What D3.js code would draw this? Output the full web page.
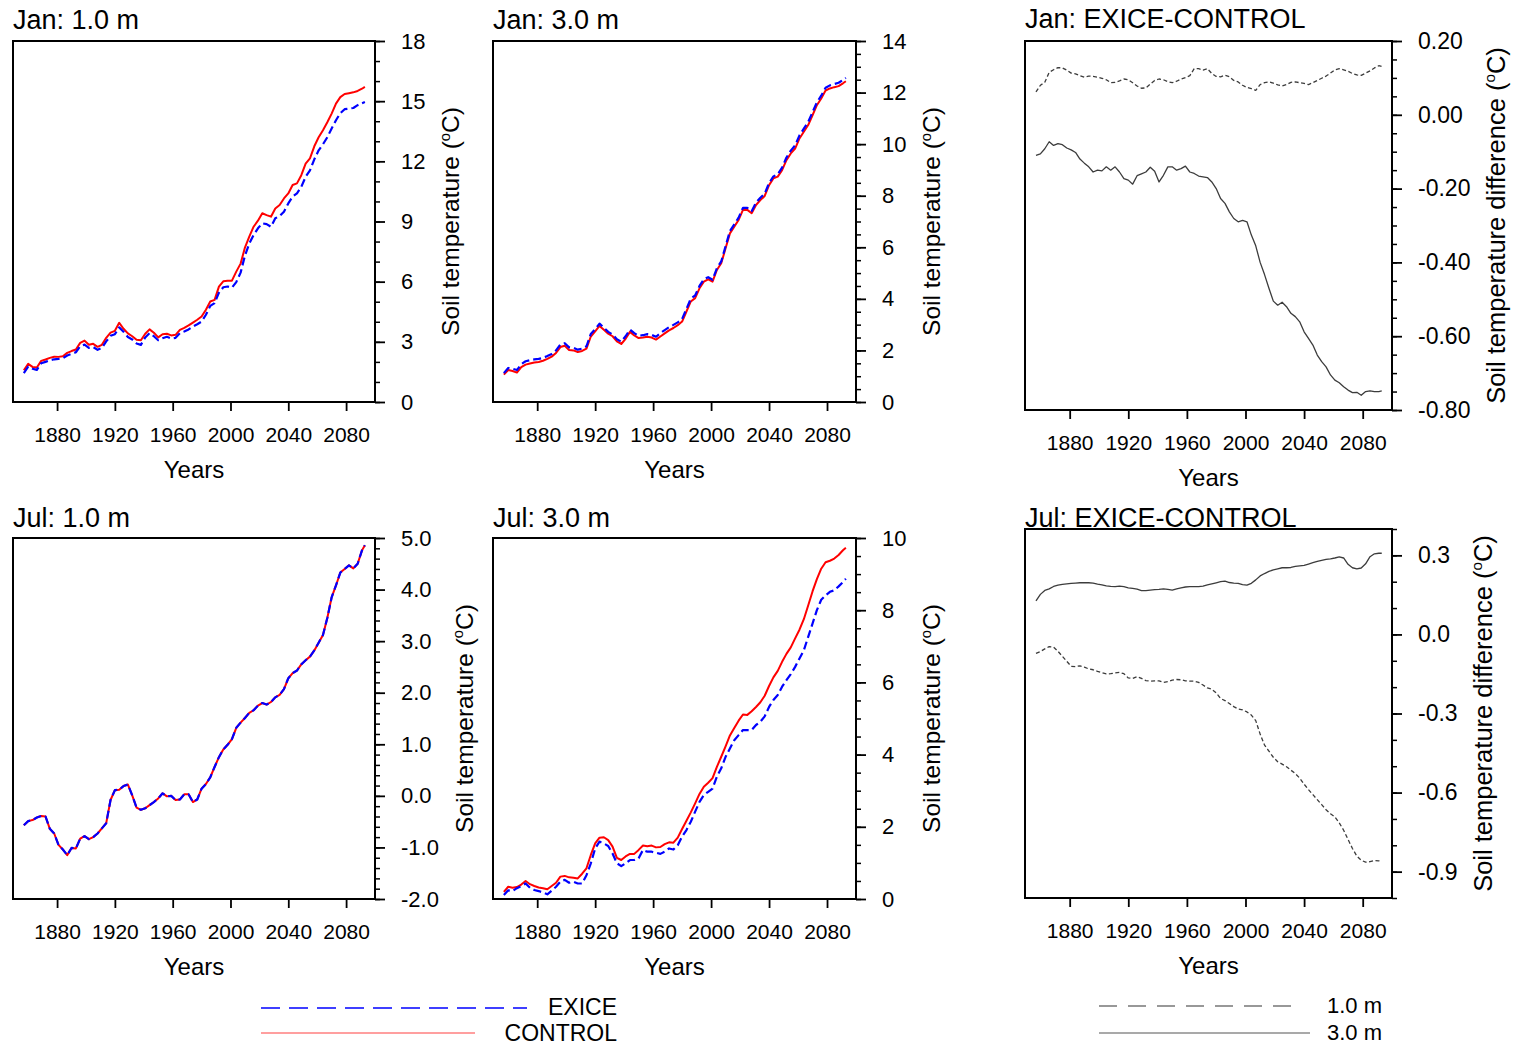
<!DOCTYPE html>
<html>
<head>
<meta charset="utf-8">
<script src="https://cdn.jsdelivr.net/npm/d3@7"></script>
<style>
  body { margin: 0; background: #fff; }
  svg { font-family: "Liberation Sans", Arial, Helvetica, sans-serif; }
</style>
</head>
<body>
<svg width="1527" height="1047"></svg>
<script>
// 15-yr running means, one value every 3 years
const years = [
  1857, 1860, 1863, 1866, 1869, 1872, 1875, 1878, 1881, 1884,
  1887, 1890, 1893, 1896, 1899, 1902, 1905, 1908, 1911, 1914,
  1917, 1920, 1923, 1926, 1929, 1932, 1935, 1938, 1941, 1944,
  1947, 1950, 1953, 1956, 1959, 1962, 1965, 1968, 1971, 1974,
  1977, 1980, 1983, 1986, 1989, 1992, 1995, 1998, 2001, 2004,
  2007, 2010, 2013, 2016, 2019, 2022, 2025, 2028, 2031, 2034,
  2037, 2040, 2043, 2046, 2049, 2052, 2055, 2058, 2061, 2064,
  2067, 2070, 2073, 2076, 2079, 2082, 2085, 2088, 2091, 2093
];

const jan1Control = [
  1.58, 1.90, 1.75, 1.72, 2.05, 2.12, 2.20, 2.26, 2.25, 2.28,
  2.45, 2.54, 2.62, 2.95, 3.06, 2.85, 2.90, 2.75, 2.85, 3.20,
  3.46, 3.55, 3.95, 3.65, 3.42, 3.28, 3.10, 3.08, 3.40, 3.62,
  3.45, 3.22, 3.38, 3.40, 3.32, 3.35, 3.60, 3.70, 3.82, 3.96,
  4.10, 4.26, 4.60, 5.01, 5.09, 5.75, 6.02, 6.05, 6.05, 6.50,
  6.90, 7.70, 8.25, 8.74, 9.04, 9.41, 9.32, 9.24, 9.65, 9.82,
  10.15, 10.40, 10.82, 10.90, 11.31, 11.89, 12.15, 12.75, 13.20, 13.55,
  13.95, 14.38, 14.88, 15.20, 15.36, 15.40, 15.44, 15.51, 15.62, 15.71
];
const jan1Exice = [
  1.44, 1.76, 1.66, 1.60, 1.93, 2.00, 2.08, 2.13, 2.15, 2.18,
  2.32, 2.40, 2.48, 2.78, 2.86, 2.70, 2.74, 2.60, 2.70, 3.02,
  3.30, 3.38, 3.72, 3.50, 3.24, 3.12, 2.92, 2.85, 3.22, 3.44,
  3.28, 3.08, 3.18, 3.25, 3.17, 3.20, 3.43, 3.52, 3.62, 3.76,
  3.88, 4.01, 4.35, 4.79, 4.93, 5.45, 5.72, 5.76, 5.70, 5.98,
  6.45, 7.30, 7.90, 8.33, 8.66, 8.91, 8.87, 8.74, 9.16, 9.27,
  9.49, 9.90, 10.24, 10.40, 10.73, 11.23, 11.55, 12.10, 12.55, 12.85,
  13.20, 13.64, 14.05, 14.40, 14.60, 14.63, 14.66, 14.80, 14.90, 14.96
];

const jan3Control = [
  1.06, 1.24, 1.20, 1.14, 1.35, 1.45, 1.49, 1.53, 1.55, 1.60,
  1.67, 1.76, 1.90, 2.13, 2.18, 2.02, 2.00, 1.94, 1.98, 2.07,
  2.54, 2.74, 2.95, 2.80, 2.65, 2.55, 2.35, 2.25, 2.45, 2.72,
  2.58, 2.48, 2.50, 2.53, 2.50, 2.42, 2.54, 2.66, 2.78, 2.87,
  2.98, 3.12, 3.51, 3.90, 4.03, 4.41, 4.67, 4.76, 4.67, 5.12,
  5.38, 5.96, 6.54, 6.80, 7.06, 7.45, 7.45, 7.32, 7.64, 7.83,
  7.99, 8.41, 8.67, 8.74, 8.99, 9.38, 9.64, 9.83, 10.22, 10.48,
  10.74, 11.12, 11.51, 11.77, 12.08, 12.16, 12.21, 12.25, 12.36, 12.44
];
const jan3Exice = [
  1.12, 1.32, 1.29, 1.24, 1.47, 1.58, 1.62, 1.65, 1.67, 1.71,
  1.78, 1.86, 2.00, 2.23, 2.28, 2.12, 2.10, 2.03, 2.07, 2.16,
  2.64, 2.83, 3.04, 2.88, 2.72, 2.62, 2.43, 2.34, 2.55, 2.81,
  2.67, 2.57, 2.59, 2.63, 2.60, 2.53, 2.67, 2.79, 2.90, 2.99,
  3.09, 3.22, 3.61, 4.01, 4.13, 4.50, 4.76, 4.84, 4.74, 5.19,
  5.45, 6.04, 6.63, 6.89, 7.15, 7.53, 7.53, 7.40, 7.73, 7.92,
  8.08, 8.49, 8.75, 8.83, 9.09, 9.48, 9.75, 9.95, 10.34, 10.60,
  10.86, 11.24, 11.62, 11.88, 12.19, 12.28, 12.33, 12.38, 12.49, 12.57
];

const janDiff1m = [
  0.062, 0.080, 0.088, 0.115, 0.122, 0.128, 0.127, 0.121, 0.113, 0.111,
  0.106, 0.102, 0.105, 0.104, 0.102, 0.099, 0.095, 0.087, 0.088, 0.092,
  0.097, 0.095, 0.087, 0.078, 0.072, 0.073, 0.083, 0.093, 0.097, 0.095,
  0.090, 0.087, 0.091, 0.097, 0.101, 0.106, 0.125, 0.125, 0.121, 0.125,
  0.112, 0.104, 0.103, 0.107, 0.103, 0.093, 0.089, 0.080, 0.074, 0.071,
  0.066, 0.082, 0.087, 0.089, 0.086, 0.081, 0.078, 0.082, 0.088, 0.089,
  0.087, 0.085, 0.082, 0.087, 0.093, 0.099, 0.105, 0.113, 0.122, 0.125,
  0.122, 0.118, 0.112, 0.108, 0.107, 0.113, 0.119, 0.127, 0.133, 0.131
];
const janDiff3m = [
  -0.110, -0.106, -0.092, -0.073, -0.083, -0.078, -0.081, -0.090, -0.095, -0.102,
  -0.120, -0.131, -0.141, -0.155, -0.150, -0.152, -0.141, -0.150, -0.141, -0.155,
  -0.173, -0.177, -0.188, -0.165, -0.160, -0.155, -0.142, -0.153, -0.182, -0.164,
  -0.141, -0.141, -0.150, -0.146, -0.139, -0.155, -0.159, -0.166, -0.168, -0.170,
  -0.182, -0.200, -0.227, -0.240, -0.263, -0.281, -0.290, -0.286, -0.290, -0.326,
  -0.355, -0.400, -0.433, -0.470, -0.505, -0.516, -0.508, -0.520, -0.538, -0.547,
  -0.561, -0.588, -0.606, -0.624, -0.651, -0.669, -0.683, -0.705, -0.719, -0.726,
  -0.737, -0.746, -0.753, -0.752, -0.760, -0.750, -0.748, -0.750, -0.750, -0.748
];

const jul1Control = [
  -0.57, -0.49, -0.47, -0.42, -0.39, -0.40, -0.64, -0.73, -0.95, -1.04,
  -1.15, -1.01, -1.02, -0.83, -0.78, -0.84, -0.80, -0.73, -0.63, -0.53,
  -0.08, 0.11, 0.12, 0.19, 0.22, 0.01, -0.23, -0.27, -0.24, -0.18,
  -0.12, -0.05, 0.05, -0.01, 0.00, -0.08, -0.07, 0.03, 0.03, -0.12,
  -0.07, 0.14, 0.23, 0.36, 0.56, 0.75, 0.90, 0.99, 1.10, 1.32,
  1.42, 1.51, 1.61, 1.66, 1.75, 1.80, 1.77, 1.82, 1.91, 1.96,
  2.07, 2.28, 2.38, 2.43, 2.55, 2.63, 2.70, 2.82, 2.97, 3.12,
  3.45, 3.85, 4.08, 4.33, 4.40, 4.47, 4.41, 4.50, 4.76, 4.86
];
// the two runs lie on top of each other at 1 m in July
const jul1Exice = [
  -0.57, -0.49, -0.47, -0.42, -0.39, -0.40, -0.64, -0.73, -0.95, -1.04,
  -1.15, -1.01, -1.02, -0.83, -0.78, -0.84, -0.80, -0.73, -0.63, -0.53,
  -0.08, 0.11, 0.12, 0.19, 0.22, 0.01, -0.23, -0.27, -0.24, -0.18,
  -0.12, -0.05, 0.05, -0.01, 0.00, -0.08, -0.07, 0.03, 0.03, -0.12,
  -0.07, 0.14, 0.23, 0.36, 0.56, 0.75, 0.90, 0.99, 1.10, 1.32,
  1.42, 1.51, 1.61, 1.66, 1.75, 1.80, 1.77, 1.82, 1.91, 1.96,
  2.07, 2.28, 2.38, 2.43, 2.55, 2.63, 2.70, 2.82, 2.97, 3.12,
  3.45, 3.85, 4.08, 4.33, 4.40, 4.47, 4.41, 4.50, 4.76, 4.86
];

const jul3Control = [
  0.20, 0.34, 0.31, 0.33, 0.40, 0.50, 0.41, 0.36, 0.32, 0.30,
  0.27, 0.36, 0.45, 0.62, 0.64, 0.60, 0.59, 0.57, 0.70, 0.85,
  1.22, 1.54, 1.70, 1.71, 1.63, 1.45, 1.14, 1.08, 1.18, 1.25,
  1.25, 1.36, 1.48, 1.46, 1.48, 1.43, 1.44, 1.52, 1.57, 1.56,
  1.70, 1.94, 2.17, 2.40, 2.65, 2.91, 3.11, 3.22, 3.35, 3.66,
  3.94, 4.23, 4.53, 4.74, 4.94, 5.11, 5.10, 5.20, 5.32, 5.45,
  5.63, 5.90, 6.14, 6.32, 6.57, 6.79, 6.97, 7.22, 7.46, 7.75,
  8.13, 8.52, 8.86, 9.15, 9.33, 9.37, 9.43, 9.53, 9.66, 9.73
];
const jul3Exice = [
  0.11, 0.24, 0.22, 0.30, 0.36, 0.43, 0.31, 0.25, 0.22, 0.18,
  0.13, 0.23, 0.34, 0.48, 0.53, 0.45, 0.48, 0.43, 0.43, 0.66,
  0.99, 1.40, 1.59, 1.54, 1.47, 1.26, 0.99, 0.91, 0.99, 1.08,
  1.08, 1.13, 1.36, 1.31, 1.31, 1.28, 1.25, 1.31, 1.40, 1.37,
  1.49, 1.73, 1.91, 2.14, 2.42, 2.69, 2.88, 2.97, 3.06, 3.39,
  3.62, 3.94, 4.17, 4.40, 4.54, 4.68, 4.68, 4.68, 4.82, 4.91,
  5.06, 5.32, 5.51, 5.65, 5.88, 6.06, 6.23, 6.43, 6.66, 6.89,
  7.26, 7.63, 8.00, 8.29, 8.41, 8.51, 8.55, 8.66, 8.78, 8.87
];

const julDiff1m = [
  -0.072, -0.065, -0.055, -0.046, -0.048, -0.064, -0.083, -0.102, -0.121, -0.122,
  -0.119, -0.124, -0.131, -0.134, -0.140, -0.145, -0.150, -0.149, -0.146, -0.144,
  -0.149, -0.165, -0.167, -0.160, -0.167, -0.175, -0.177, -0.176, -0.176, -0.182,
  -0.179, -0.173, -0.171, -0.172, -0.176, -0.177, -0.177, -0.182, -0.192, -0.203,
  -0.208, -0.222, -0.243, -0.251, -0.262, -0.274, -0.283, -0.286, -0.294, -0.306,
  -0.327, -0.378, -0.420, -0.443, -0.466, -0.483, -0.492, -0.502, -0.515, -0.528,
  -0.545, -0.568, -0.589, -0.608, -0.627, -0.646, -0.665, -0.680, -0.692, -0.715,
  -0.743, -0.778, -0.812, -0.841, -0.857, -0.864, -0.862, -0.858, -0.859, -0.861
];
const julDiff3m = [
  0.127, 0.152, 0.167, 0.173, 0.182, 0.187, 0.190, 0.192, 0.194, 0.195,
  0.196, 0.196, 0.196, 0.195, 0.191, 0.188, 0.184, 0.182, 0.181, 0.183,
  0.181, 0.177, 0.175, 0.172, 0.166, 0.166, 0.168, 0.170, 0.171, 0.173,
  0.171, 0.168, 0.173, 0.177, 0.180, 0.181, 0.181, 0.181, 0.183, 0.188,
  0.192, 0.196, 0.200, 0.202, 0.197, 0.195, 0.194, 0.189, 0.187, 0.194,
  0.207, 0.222, 0.231, 0.239, 0.245, 0.249, 0.253, 0.253, 0.254, 0.258,
  0.260, 0.262, 0.267, 0.272, 0.277, 0.281, 0.285, 0.287, 0.290, 0.294,
  0.290, 0.266, 0.253, 0.249, 0.252, 0.268, 0.295, 0.306, 0.308, 0.308
];

// tick labels
const xTicks = [1880, 1920, 1960, 2000, 2040, 2080];
const jan1Ticks = [0, 3, 6, 9, 12, 15, 18];
const jan3Ticks = [0, 2, 4, 6, 8, 10, 12, 14];
const janDiffTicks = [-0.8, -0.6, -0.4, -0.2, 0.0, 0.2];
const jul1Ticks = [-2, -1, 0, 1, 2, 3, 4, 5];
const jul3Ticks = [0, 2, 4, 6, 8, 10];
const julDiffTicks = [-0.9, -0.6, -0.3, 0.0, 0.3];

const legendTemp = ["EXICE", "CONTROL"];
const legendDepth = ["1.0 m", "3.0 m"];

const fmtLocale = d3.formatLocale({ decimal: ".", thousands: ",", grouping: [3], currency: ["", ""], minus: "-" });

const styles = {
  control: { stroke: "#ff0000", width: 2, dash: null },
  exice: { stroke: "#0000ff", width: 2.2, dash: "8,4" },
  m1: { stroke: "#3c3c3c", width: 1.3, dash: "4,2.5" },
  m3: { stroke: "#3c3c3c", width: 1.3, dash: null }
};

const panels = [
  { title: "Jan: 1.0 m", box: [13, 41, 375, 402], titleY: 29, yDomain: [0, 18], ticks: jan1Ticks, minor: 1, fmt: "d",
    label: "Soil temperature", labelSize: 24.5, tickFont: 22,
    series: [[jan1Control, "control"], [jan1Exice, "exice"]] },
  { title: "Jan: 3.0 m", box: [493, 41, 856, 402], titleY: 29, yDomain: [0, 14], ticks: jan3Ticks, minor: 0.5, fmt: "d",
    label: "Soil temperature", labelSize: 24.5, tickFont: 22,
    series: [[jan3Control, "control"], [jan3Exice, "exice"]] },
  { title: "Jan: EXICE-CONTROL", box: [1025, 41, 1392, 410], titleY: 28, yDomain: [-0.8, 0.2], ticks: janDiffTicks, minor: 0.05, fmt: ".2f",
    label: "Soil temperature difference", labelSize: 25.5, tickFont: 23,
    series: [[janDiff1m, "m1"], [janDiff3m, "m3"]] },
  { title: "Jul: 1.0 m", box: [13, 538, 375, 899], titleY: 527, yDomain: [-2, 5], ticks: jul1Ticks, minor: 0.2, fmt: ".1f",
    label: "Soil temperature", labelSize: 24.5, tickFont: 22,
    series: [[jul1Control, "control"], [jul1Exice, "exice"]] },
  { title: "Jul: 3.0 m", box: [493, 538, 856, 899], titleY: 527, yDomain: [0, 10], ticks: jul3Ticks, minor: 0.5, fmt: "d",
    label: "Soil temperature", labelSize: 24.5, tickFont: 22,
    series: [[jul3Control, "control"], [jul3Exice, "exice"]] },
  { title: "Jul: EXICE-CONTROL", box: [1025, 529, 1392, 898], titleY: 527, yDomain: [-1.0, 0.4], ticks: julDiffTicks, minor: 0.1, fmt: ".1f",
    label: "Soil temperature difference", labelSize: 25.5, tickFont: 23,
    series: [[julDiff1m, "m1"], [julDiff3m, "m3"]] }
];

const svg = d3.select("svg");
const xDomain = [1849.5, 2100];

panels.forEach(p => {
  const [x0, y0, x1, y1] = p.box;
  const x = d3.scaleLinear().domain(xDomain).range([x0, x1]);
  const y = d3.scaleLinear().domain(p.yDomain).range([y1, y0]);
  const g = svg.append("g");

  const line = d3.line()
    .x((d, i) => x(years[i]))
    .y(d => y(d));

  p.series.forEach(([vals, key]) => {
    const s = styles[key];
    g.append("path")
      .datum(vals)
      .attr("d", line)
      .attr("fill", "none")
      .attr("stroke", s.stroke)
      .attr("stroke-width", s.width)
      .attr("stroke-dasharray", s.dash)
      .attr("stroke-linejoin", "round");
  });

  g.append("rect")
    .attr("x", x0).attr("y", y0)
    .attr("width", x1 - x0).attr("height", y1 - y0)
    .attr("fill", "none")
    .attr("stroke", "#000")
    .attr("stroke-width", 2);

  // minor ticks on the right side
  const minorVals = d3.range(p.yDomain[0], p.yDomain[1] + p.minor / 2, p.minor).map(v => +v.toFixed(4));
  const minorAxis = g.append("g")
    .attr("transform", `translate(${x1},0)`)
    .call(d3.axisRight(y).tickValues(minorVals).tickSize(5).tickSizeOuter(0).tickFormat(""));
  minorAxis.select(".domain").remove();
  minorAxis.selectAll("line").attr("stroke-width", 1.5);

  const yAxis = g.append("g")
    .attr("transform", `translate(${x1},0)`)
    .call(d3.axisRight(y).tickValues(p.ticks).tickSize(10).tickSizeOuter(0).tickPadding(16)
      .tickFormat(fmtLocale.format(p.fmt)));
  yAxis.select(".domain").remove();
  yAxis.attr("font-family", null).attr("font-size", p.tickFont);
  yAxis.selectAll("line").attr("stroke-width", 1.8);
  yAxis.selectAll("text").attr("fill", "#000");

  const xAxis = g.append("g")
    .attr("transform", `translate(0,${y1})`)
    .call(d3.axisBottom(x).tickValues(xTicks).tickSize(9).tickSizeOuter(0).tickPadding(16)
      .tickFormat(d3.format("d")));
  xAxis.select(".domain").remove();
  xAxis.attr("font-family", null).attr("font-size", 21);
  xAxis.selectAll("line").attr("stroke-width", 1.8);
  xAxis.selectAll("text").attr("fill", "#000");

  // title
  g.append("text")
    .attr("x", x0).attr("y", p.titleY)
    .attr("font-size", 27)
    .text(p.title);

  // x label
  g.append("text")
    .attr("x", (x0 + x1) / 2).attr("y", y1 + 76)
    .attr("text-anchor", "middle")
    .attr("font-size", 24)
    .text("Years");

  // y label placed after the widest tick label
  const maxW = d3.max(yAxis.selectAll("text").nodes(), n => n.getComputedTextLength());
  const lx = x1 + 26 + maxW + 16 + p.labelSize * 0.72;
  const t = g.append("text")
    .attr("transform", `translate(${lx},${(y0 + y1) / 2}) rotate(-90)`)
    .attr("text-anchor", "middle")
    .attr("font-size", p.labelSize);
  t.append("tspan").text(p.label + " (");
  t.append("tspan").attr("font-size", p.labelSize * 0.6).attr("dy", -p.labelSize * 0.38).text("o");
  t.append("tspan").attr("dy", p.labelSize * 0.38).text("C)");
});

// legends
const tempRows = [
  { text: legendTemp[0], x0: 261, x1: 527, ly: 1008, ty: 1015, style: { stroke: "#0000ff", width: 1.6, dash: "19,9" } },
  { text: legendTemp[1], x0: 261, x1: 475, ly: 1033, ty: 1041, style: { stroke: "#ff4040", width: 1.2, dash: null } }
];
const depthRows = [
  { text: legendDepth[0], x0: 1099, x1: 1302, ly: 1006, ty: 1013, style: { stroke: "#333", width: 1.2, dash: "18,11" } },
  { text: legendDepth[1], x0: 1099, x1: 1310, ly: 1033, ty: 1040, style: { stroke: "#555", width: 1.2, dash: null } }
];

[[tempRows, 617, 23], [depthRows, 1382, 22]].forEach(([rows, textEnd, size]) => {
  const leg = svg.append("g").attr("font-size", size);
  rows.forEach(r => {
    leg.append("line")
      .attr("x1", r.x0).attr("x2", r.x1)
      .attr("y1", r.ly).attr("y2", r.ly)
      .attr("stroke", r.style.stroke)
      .attr("stroke-width", r.style.width)
      .attr("stroke-dasharray", r.style.dash);
    leg.append("text")
      .attr("x", textEnd).attr("y", r.ty)
      .attr("text-anchor", "end")
      .text(r.text);
  });
});
</script>
</body>
</html>
